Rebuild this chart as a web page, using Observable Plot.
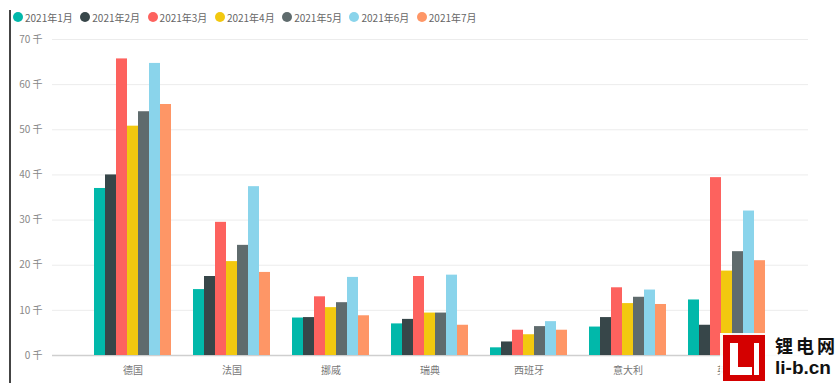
<!DOCTYPE html>
<html><head><meta charset="utf-8">
<script src="https://cdn.jsdelivr.net/npm/d3@7"></script>
<script src="https://cdn.jsdelivr.net/npm/@observablehq/plot@0.6"></script>
<style>
body{margin:0;background:#fff;font-family:"Noto Sans CJK SC","Noto Sans",sans-serif;}
#wrap{position:relative;width:840px;height:383px;overflow:hidden;background:#fff}
#frame{position:absolute;left:9px;top:10px;width:2px;height:373px;background:#444}
#legend{position:absolute;left:13px;top:9px;height:16px;display:flex;font-size:10px;color:#666;white-space:nowrap}
.item{display:flex;align-items:center;width:67.3px}
.dot{width:10px;height:10px;border-radius:50%;margin-right:2px;flex:none}
#grid,#bars{position:absolute;left:0;top:28px}
#wm{position:absolute;left:720px;top:333px;width:120px;height:50px;background:rgba(255,255,255,0.92)}
#logo{position:absolute;left:3px;top:2px;width:42px;height:46px;background:#d40000}
.w{position:absolute;background:#fff}
#wt{position:absolute;left:55px;top:1px;font:bold 18px "Noto Sans CJK SC",sans-serif;color:#111;letter-spacing:3px;line-height:22px;white-space:nowrap}
#wt2{position:absolute;left:55px;top:24px;font:bold 19px "Liberation Sans",sans-serif;color:#111;line-height:22px;white-space:nowrap}
</style></head>
<body>
<div id="wrap">
  <div id="frame"></div>
  <div id="legend"></div>
  <div id="grid"></div>
  <div id="bars"></div>
  <div id="wm">
    <div id="logo">
      <div class="w" style="left:7px;top:8px;width:8px;height:32px"></div>
      <div class="w" style="left:7px;top:32px;width:22px;height:8px"></div>
      <div class="w" style="left:31px;top:8px;width:5px;height:32px"></div>
    </div>
    <div id="wt">锂电网</div>
    <div id="wt2">li-b.cn</div>
  </div>
</div>
<script>
const countries = ["德国","法国","挪威","瑞典","西班牙","意大利","英国"];
const months = ["2021年1月","2021年2月","2021年3月","2021年4月","2021年5月","2021年6月","2021年7月"];
const colors = ["#01B8AA","#374649","#FD625E","#F2C80F","#5F6B6D","#8AD4EB","#FE9666"];
const yTicks = [0,10,20,30,40,50,60,70];
// values in 千 (thousands), one array per month, ordered by countries
const jan = [37.0, 14.6, 8.3, 7.0, 1.7, 6.3, 12.3];
const feb = [40.0, 17.5, 8.4, 8.0, 3.0, 8.4, 6.7];
const mar = [65.7, 29.5, 13.0, 17.5, 5.6, 15.0, 39.4];
const apr = [50.8, 20.8, 10.6, 9.4, 4.6, 11.5, 18.7];
const may = [54.0, 24.4, 11.7, 9.4, 6.4, 12.9, 23.0];
const jun = [64.7, 37.4, 17.3, 17.8, 7.5, 14.5, 32.0];
const jul = [55.6, 18.4, 8.8, 6.7, 5.6, 11.3, 21.0];
const series = [jan, feb, mar, apr, may, jun, jul];

const rows = [];
countries.forEach((c, i) => months.forEach((m, j) => rows.push({country: c, month: m, value: series[j][i]})));

// legend
const lg = document.getElementById("legend");
months.forEach((m, j) => {
  const it = document.createElement("div"); it.className = "item";
  it.innerHTML = `<span class="dot" style="background:${colors[j]}"></span><span>${m}</span>`;
  lg.appendChild(it);
});

const common = {width: 840, height: 355, marginTop: 11, marginBottom: 28};

const grid = Plot.plot({
  ...common, marginLeft: 71, marginRight: 52,
  style: {fontFamily: '"Noto Sans CJK SC","Noto Sans",sans-serif', fontSize: "10px", color: "#888", background: "transparent"},
  x: {axis: null},
  y: {domain: [0, 70], ticks: yTicks, tickFormat: d => d + " 千", tickSize: 0, tickPadding: 29, label: null},
  marks: [
    Plot.ruleY(yTicks.filter(d => d > 0), {stroke: "#ececec", insetLeft: -19, insetRight: -20}),
    Plot.ruleY([0], {stroke: "#cfcfcf", strokeWidth: 1.5, insetLeft: -19, insetRight: -20})
  ]
});
document.getElementById("grid").appendChild(grid);

const bars = Plot.plot({
  ...common, marginLeft: 91, marginRight: 72,
  style: {fontFamily: '"Noto Sans CJK SC","Noto Sans",sans-serif', fontSize: "10px", color: "#777", background: "transparent"},
  facet: {data: rows, x: "country"},
  fx: {domain: countries, paddingInner: 0.2, paddingOuter: 0, label: null, axis: "bottom", tickSize: 0, tickPadding: 11},
  x: {domain: months, padding: 0, axis: null},
  y: {domain: [0, 70], axis: null},
  color: {domain: months, range: colors},
  marks: [
    Plot.barY(rows, {x: "month", y: "value", fill: "month", inset: 0})
  ]
});
document.getElementById("bars").appendChild(bars);
</script>
</body></html>
